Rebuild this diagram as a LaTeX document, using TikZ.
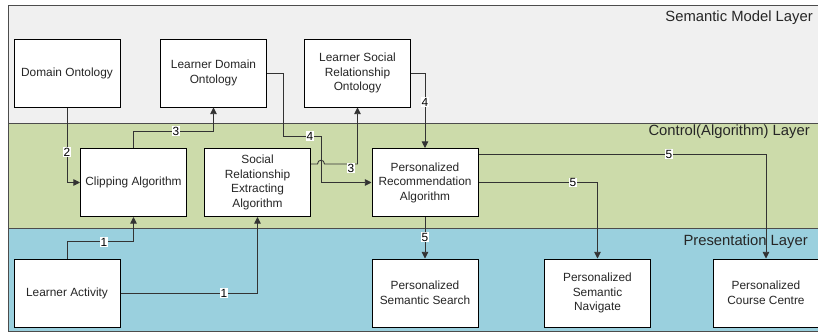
\documentclass[tikz,border=0pt]{standalone}
\usepackage{fontspec}
\setmainfont{Liberation Sans}
\usetikzlibrary{arrows.meta}
\definecolor{semgray}{HTML}{F0F0F0}
\definecolor{ctrlgreen}{HTML}{CCDBAA}
\definecolor{presblue}{HTML}{9AD0DE}
\definecolor{linegray}{HTML}{333333}

\begin{document}
\begin{tikzpicture}[x=0.75pt,y=-0.75pt,
    box/.style={shape=rectangle,draw=black,fill=white,line width=0.75pt,
        minimum width=79.5pt,minimum height=51pt,inner sep=1pt,align=center,
        text=black!85,font=\fontsize{8.9}{10.9}\selectfont},
    num/.style={fill=white,inner sep=0.6pt,text=black,font=\fontsize{8.9}{10}\selectfont},
    layer/.style={draw=black!70,line width=0.75pt},
    layertitle/.style={anchor=east,inner sep=0pt,text=black!85,font=\fontsize{11.1}{13}\selectfont},
    conn/.style={draw=linegray,line width=0.65pt,-{Triangle[length=5pt,width=5pt]}}]
    \useasboundingbox (0,0) rectangle (818,332);

    % layers
    \draw[layer,fill=semgray] (8,5) rectangle (840,123);
    \draw[layer,fill=ctrlgreen] (8,123) rectangle (840,228);
    \draw[layer,fill=presblue] (8,228) rectangle (840,331);
    \node[layertitle] (semtitle) at (813,18) {Semantic Model Layer};
    \node[layertitle] (ctrltitle) at (810,132) {Control(Algorithm) Layer};
    \node[layertitle] (prestitle) at (808,242) {Presentation Layer};

    \node[box] (dom) at (67,73) {Domain Ontology};
    \node[box] (ldom) at (213.5,73) {Learner Domain\\Ontology};
    \node[box] (lsoc) at (357.5,73) {Learner Social\\Relationship\\Ontology};
    \node[box] (clip) at (133.5,182.5) {Clipping Algorithm};
    \node[box] (sre) at (257.5,182.5) {Social\\Relationship\\Extracting\\Algorithm};
    \node[box] (prec) at (425,182.5) {Personalized\\Recommendation\\Algorithm};
    \node[box] (lact) at (67,293) {Learner Activity};
    \node[box] (pss) at (425,293) {Personalized\\Semantic Search};
    \node[box] (psn) at (597.5,293) {Personalized\\Semantic\\Navigate};
    \node[box] (pcc) at (766,293) {Personalized\\Course Centre};

    \draw[conn] (lact.north) -- ++(0,-17) -| (clip.south);
    \draw[conn] (lact.east) -| (sre.south);
    \draw[conn] (dom.south) |- (clip.west);
    \draw[conn] (clip.north) -- ++(0,-17) -| (ldom.south);
    \draw[conn] (ldom.east) -- ++(16,0) |- (321,136) |- (prec.west);
    \draw[conn] ([yshift=13.9pt]sre.east) -- (317.5,164)
        .. controls (317.5,159) and (324.5,159) .. (324.5,164) -| (lsoc.south);
    \draw[conn] (lsoc.east) -| (prec.north);
    \draw[conn] ([yshift=21.4pt]prec.east) -| (pcc.north);
    \draw[conn] (prec.east) -| (psn.north);
    \draw[conn] (prec.south) -- (pss.north);

    \node[num] (n1a) at (104,242) {1};
    \node[num] (n1b) at (224,293) {1};
    \node[num] (n2) at (67,152) {2};
    \node[num] (n3a) at (176,131) {3};
    \node[num] (n3b) at (351,168) {3};
    \node[num] (n4a) at (310,136) {4};
    \node[num] (n4b) at (425,102) {4};
    \node[num] (n5a) at (669,154) {5};
    \node[num] (n5b) at (573,182.5) {5};
    \node[num] (n5c) at (425,237) {5};
\end{tikzpicture}
\end{document}
